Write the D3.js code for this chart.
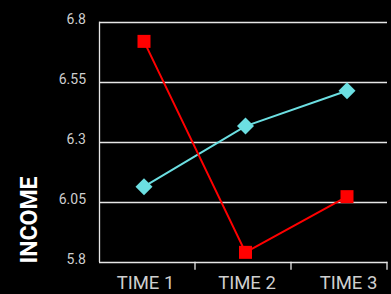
<!DOCTYPE html>
<html>
<head>
<meta charset="utf-8">
<script src="https://cdn.jsdelivr.net/npm/d3@7"></script>
<style>
  html, body { margin: 0; padding: 0; background: #000; }
  svg { display: block; }
</style>
</head>
<body>
<div id="chart"></div>
<script>
// chart data
const times = ["TIME 1", "TIME 2", "TIME 3"];
const redValues = [6.718, 5.839, 6.071];
const cyanValues = [6.1125, 6.365, 6.5125];
const yTicks = [5.8, 6.05, 6.3, 6.55, 6.8];
const yLabel = "INCOME";

const width = 391, height = 294;
const plot = {left: 99, right: 387, top: 21.7, bottom: 261.7};

const svg = d3.select("#chart").append("svg")
  .attr("width", width)
  .attr("height", height)
  .style("background", "#000");

// scales
const y = d3.scaleLinear().domain([5.8, 6.8]).range([plot.bottom, plot.top]);
const x = d3.scalePoint().domain(times).range([144, 347]);
const band = d3.scaleBand().domain(times).range([plot.left, plot.right]); // for tick dividers

// gridlines
svg.append("g")
  .selectAll("line")
  .data(yTicks.slice(1))
  .enter().append("line")
    .attr("x1", plot.left).attr("x2", plot.right)
    .attr("y1", d => Math.round(y(d)) + 0.5)
    .attr("y2", d => Math.round(y(d)) + 0.5)
    .attr("stroke", "#e6e6e6")
    .attr("stroke-width", 1.3);

// y tick labels
svg.append("g")
  .selectAll("text")
  .data(yTicks)
  .enter().append("text")
    .attr("x", 86)
    .attr("y", d => y(d) + 2.5)
    .attr("text-anchor", "end")
    .attr("fill", "#cfcfcf")
    .style("font-family", "Roboto, sans-serif")
    .style("font-size", "14px")
    .text(d => d);

// axes lines
svg.append("line")
  .attr("x1", plot.left + 0.5).attr("x2", plot.left + 0.5)
  .attr("y1", plot.top).attr("y2", plot.bottom + 0.5)
  .attr("stroke", "#e6e6e6").attr("stroke-width", 1.3);
svg.append("line")
  .attr("x1", plot.left).attr("x2", plot.right + 0.5)
  .attr("y1", Math.round(plot.bottom) + 0.5).attr("y2", Math.round(plot.bottom) + 0.5)
  .attr("stroke", "#e6e6e6").attr("stroke-width", 1.3);

// tick dividers between categories
svg.append("g")
  .selectAll("line")
  .data(times)
  .enter().append("line")
    .attr("x1", d => band(d) + band.bandwidth())
    .attr("x2", d => band(d) + band.bandwidth())
    .attr("y1", plot.bottom)
    .attr("y2", plot.bottom + 8)
    .attr("stroke", "#e6e6e6").attr("stroke-width", 1.3);

// x labels
svg.append("g")
  .selectAll("text")
  .data(times)
  .enter().append("text")
    .attr("x", d => x(d) + 1.5)
    .attr("y", 289.3)
    .attr("text-anchor", "middle")
    .attr("fill", "#cfcfcf")
    .style("font-family", "Roboto, sans-serif")
    .style("font-size", "18.5px")
    .text(d => d);

// y axis title
svg.append("text")
  .attr("transform", "translate(36.5,220) rotate(-90)")
  .attr("text-anchor", "middle")
  .attr("fill", "#fff")
  .style("font-family", "Roboto, sans-serif")
  .style("font-weight", "bold")
  .style("font-size", "23px")
  .text(yLabel);

const line = d3.line()
  .x((d, i) => x(times[i]))
  .y(d => y(d));

// cyan series
svg.append("path")
  .datum(cyanValues)
  .attr("d", line)
  .attr("fill", "none")
  .attr("stroke", "#6cdfe2")
  .attr("stroke-width", 2);
svg.append("g")
  .selectAll("rect")
  .data(cyanValues)
  .enter().append("rect")
    .attr("x", -6).attr("y", -6)
    .attr("width", 12).attr("height", 12)
    .attr("transform", (d, i) => "translate(" + x(times[i]) + "," + y(d) + ") rotate(45)")
    .attr("fill", "#6cdfe2");

// red series
svg.append("path")
  .datum(redValues)
  .attr("d", line)
  .attr("fill", "none")
  .attr("stroke", "#ff0000")
  .attr("stroke-width", 2);
svg.append("g")
  .selectAll("rect")
  .data(redValues)
  .enter().append("rect")
    .attr("x", (d, i) => x(times[i]) - 6.5)
    .attr("y", d => y(d) - 6.5)
    .attr("width", 13).attr("height", 13)
    .attr("fill", "#ff0000");
</script>
</body>
</html>
